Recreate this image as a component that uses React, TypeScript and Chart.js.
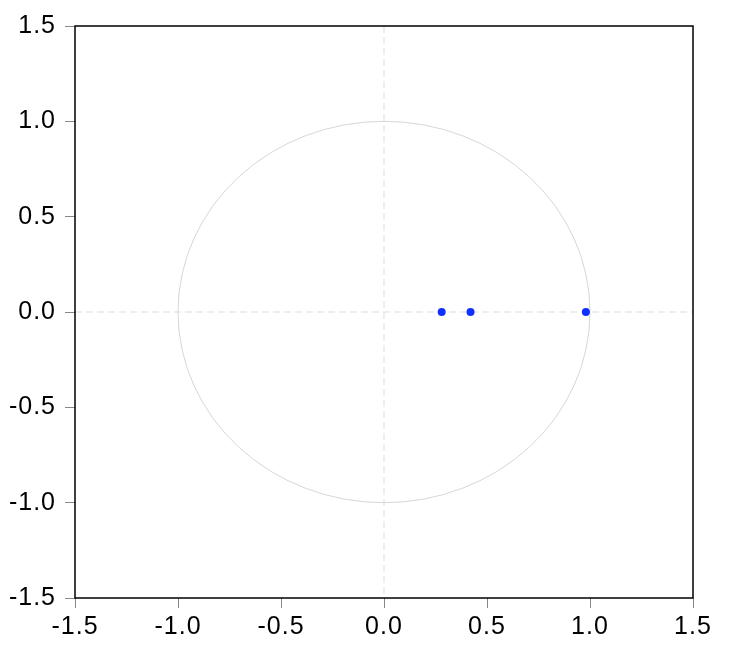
import React, { useEffect, useRef } from "react";
import { Chart, registerables } from "chart.js";

Chart.register(...registerables);

const rootReal = [0.28, 0.42, 0.98];
const rootImag = [0.0, 0.0, 0.0];
const tickValues = [-1.5, -1.0, -0.5, 0.0, 0.5, 1.0, 1.5];
const unitRadius = [1.0];

const FONT = "'Liberation Sans', Arial, sans-serif";

const framePlugin = {
  id: "framePlugin",
  beforeDraw(chart: any) {
    try {
      chart.ctx.letterSpacing = "1px";
    } catch (e) {}
  },
  beforeDatasetsDraw(chart: any) {
    const { ctx, chartArea, scales } = chart;
    const xs = scales.x;
    const ys = scales.y;
    const x0 = xs.getPixelForValue(0);
    const y0 = ys.getPixelForValue(0);
    ctx.save();
    ctx.strokeStyle = "#dddddd";
    ctx.lineWidth = 1;
    ctx.setLineDash([7, 4]);
    ctx.beginPath();
    ctx.moveTo(chartArea.left, y0);
    ctx.lineTo(chartArea.right, y0);
    ctx.moveTo(x0, chartArea.top);
    ctx.lineTo(x0, chartArea.bottom);
    ctx.stroke();
    ctx.setLineDash([]);
    const r = unitRadius[0];
    const rx = Math.abs(xs.getPixelForValue(r) - x0);
    const ry = Math.abs(ys.getPixelForValue(r) - y0);
    ctx.strokeStyle = "#d6d6d6";
    ctx.beginPath();
    ctx.ellipse(x0, y0, rx, ry, 0, 0, Math.PI * 2);
    ctx.stroke();
    ctx.restore();
  },
  afterDatasetsDraw(chart: any) {
    const { ctx, chartArea } = chart;
    ctx.save();
    ctx.strokeStyle = "#000000";
    ctx.lineWidth = 1.5;
    ctx.strokeRect(
      chartArea.left,
      chartArea.top,
      chartArea.right - chartArea.left,
      chartArea.bottom - chartArea.top
    );
    ctx.restore();
  },
};

export default function App() {
  const ref = useRef<HTMLCanvasElement | null>(null);
  useEffect(() => {
    if (!ref.current) return;
    const points = rootReal.map((x, i) => ({ x, y: rootImag[i] }));
    const chart = new Chart(ref.current, {
      type: "scatter",
      data: {
        datasets: [
          {
            data: points,
            backgroundColor: "#1030ff",
            borderColor: "#1030ff",
            pointRadius: 4,
            pointBorderWidth: 0,
          },
        ],
      },
      options: {
        animation: false,
        responsive: false,
        events: [],
        layout: { padding: { top: 26, right: 37, left: 0, bottom: 0 } },
        plugins: { legend: { display: false }, tooltip: { enabled: false } },
        scales: {
          x: {
            type: "linear",
            min: -1.5,
            max: 1.5,
            afterBuildTicks(scale: any) {
              scale.ticks = tickValues.map((v) => ({ value: v }));
            },
            afterFit(scale: any) {
              scale.height = 60;
            },
            grid: {
              drawOnChartArea: false,
              color: "#888888",
              tickColor: "#888888",
              tickLength: 10,
              tickWidth: 1,
            },
            border: { display: false },
            ticks: {
              color: "#000000",
              font: { family: FONT, size: 25 },
              padding: 4,
              maxRotation: 0,
              callback: (v: any) => Number(v).toFixed(1),
            },
          },
          y: {
            type: "linear",
            min: -1.5,
            max: 1.5,
            afterBuildTicks(scale: any) {
              scale.ticks = tickValues.map((v) => ({ value: v }));
            },
            afterFit(scale: any) {
              scale.width = 75;
            },
            grid: {
              drawOnChartArea: false,
              color: "#888888",
              tickColor: "#888888",
              tickLength: 10,
              tickWidth: 1,
            },
            border: { display: false },
            ticks: {
              color: "#000000",
              font: { family: FONT, size: 25 },
              padding: 9,
              callback: (v: any) => Number(v).toFixed(1),
            },
          },
        },
      },
      plugins: [framePlugin],
    });
    return () => chart.destroy();
  }, []);
  return (
    <div style={{ position: "fixed", left: 0, top: 0, width: 730, height: 658, background: "#fff" }}>
      <canvas ref={ref} width={730} height={658} style={{ width: 730, height: 658 }} />
    </div>
  );
}
